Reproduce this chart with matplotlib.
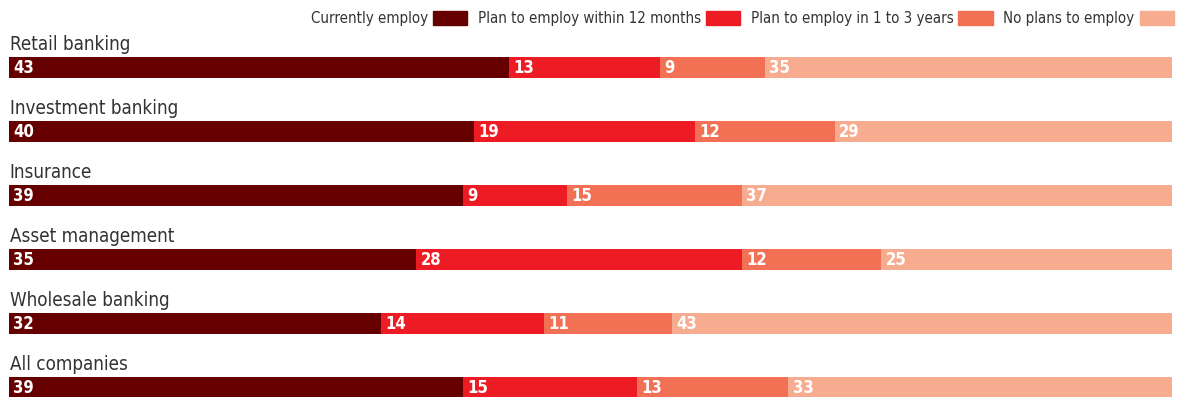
import matplotlib
matplotlib.use('Agg')
import matplotlib.pyplot as plt
import numpy as np
from matplotlib.patches import Patch

# shares of companies (%) by sector
sectors = ['Retail banking', 'Investment banking', 'Insurance',
           'Asset management', 'Wholesale banking', 'All companies']
series_names = ['Currently employ', 'Plan to employ within 12 months',
                'Plan to employ in 1 to 3 years', 'No plans to employ']
currently = [43, 40, 39, 35, 32, 39]
within_12m = [13, 19, 9, 28, 14, 15]
in_1_to_3y = [9, 12, 15, 12, 11, 13]
no_plans = [35, 29, 37, 25, 43, 33]
colours = ['#660000', '#ED1C24', '#F27155', '#F7AB8F']

plt.rcParams['font.family'] = ['DejaVu Sans']
plt.rcParams['font.stretch'] = 'condensed'

fig = plt.figure(figsize=(11.8, 3.97), dpi=100)
ax = fig.add_axes([9/1180, 0, 1163/1180, 1])

y = np.arange(len(sectors))
left = np.zeros(len(sectors))
for vals, name, col in zip([currently, within_12m, in_1_to_3y, no_plans], series_names, colours):
    vals = np.array(vals)
    ax.barh(y, vals, left=left, height=0.33, color=col, label=name)
    for yi, l, v in zip(y, left, vals):
        ax.text(l + 0.38, yi, str(v), color='white', fontsize=12, fontweight='bold',
                va='center', ha='left')
    left += vals

for yi, s in zip(y, sectors):
    ax.text(0.05, yi - 0.27, s, fontsize=13.5, color='#333333', va='baseline', ha='left')

ax.set_xlim(0, 100)
ax.set_ylim(5.148, -1.055)
ax.axis('off')

handles = [Patch(color=c) for c in colours]
fig.legend(handles, series_names, loc='upper right', bbox_to_anchor=(1174/1180, 1 - 11/397),
           ncol=4, frameon=False, markerfirst=False, fontsize=10.8,
           handlelength=2.3, handleheight=1.1, handletextpad=0.33, columnspacing=0.7,
           borderaxespad=0, borderpad=0, labelcolor='#333333')

fig.savefig('out.png', dpi=100)
